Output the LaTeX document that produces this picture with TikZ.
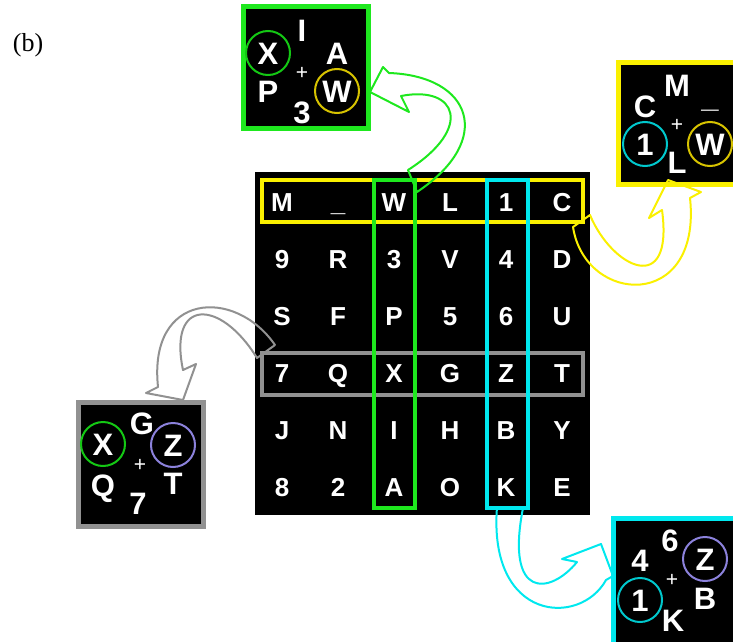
\documentclass[tikz,border=0pt]{standalone}
\usepackage{fontspec}
\setmainfont{Liberation Serif}
\setsansfont{Liberation Sans}

\definecolor{boxgreen}{RGB}{30,232,30}
\definecolor{boxyellow}{RGB}{250,240,0}
\definecolor{boxcyan}{RGB}{0,232,238}
\definecolor{boxgray}{RGB}{145,145,145}
\definecolor{ringgreen}{RGB}{20,200,20}
\definecolor{ringyellow}{RGB}{215,195,0}
\definecolor{ringcyan}{RGB}{0,200,205}
\definecolor{ringpurple}{RGB}{140,130,220}

\tikzset{
  gridlet/.style={text=white, font=\sffamily\bfseries\fontsize{26}{26}\selectfont,
    text height=18.6pt, text depth=0pt, inner sep=0pt},
  cardlet/.style={text=white, font=\sffamily\bfseries\fontsize{31}{31}\selectfont,
    text height=22pt, text depth=0pt, inner sep=0pt},
  plusmark/.style={text=white, font=\sffamily\fontsize{21}{21}\selectfont, inner sep=0pt},
  ring/.style={circle, draw=#1, line width=2pt, minimum size=44pt, inner sep=0pt},
  hilite/.style={draw=#1, line width=3.5pt},
  cardbox/.style={fill=black, draw=#1, line width=5pt},
  swoop/.style={draw=#1, line width=2pt, line join=round},
}

\begin{document}
\begin{tikzpicture}[x=1pt,y=-1pt]
  \useasboundingbox (0,0) rectangle (733,642);
  \clip (0,0) rectangle (733,642);

  \node[font=\fontsize{26}{26}\selectfont] (label) at (28,45) {(b)};

  % the 6x6 square
  \fill[black] (255,172) rectangle (590,515);
  \foreach \row [count=\r] in {{M,\_,W,L,1,C},{9,R,3,V,4,D},{S,F,P,5,6,U},
                               {7,Q,X,G,Z,T},{J,N,I,H,B,Y},{8,2,A,O,K,E}}
    \foreach \ch [count=\c] in \row
      \node[gridlet] (g\r\c) at ({226+56*\c},{145+57*\r}) {\ch};

  % highlighted row and columns
  \draw[hilite=boxyellow] (262,180) rectangle (583,222);
  \draw[hilite=boxgray] (262,353) rectangle (583,395);
  \draw[hilite=boxgreen] (374,180) rectangle (415,508);
  \draw[hilite=boxcyan] (487,180) rectangle (528,508);

  % green card
  \draw[cardbox=boxgreen] (243,7) rectangle (368,128);
  \node[cardlet] (gI) at (302,31) {I};
  \node[cardlet] (gX) at (268,53) {X};
  \node[cardlet] (gA) at (337,53) {A};
  \node[plusmark] (gplus) at (302,73) {+};
  \node[cardlet] (gP) at (268,91) {P};
  \node[cardlet] (gW) at (337,91) {W};
  \node[cardlet] (g3) at (302,112) {3};
  \node[ring=ringgreen] at (gX) {};
  \node[ring=ringyellow] at (gW) {};

  % yellow card
  \draw[cardbox=boxyellow] (618,63) rectangle (738,184);
  \node[cardlet] (yM) at (677,85) {M};
  \node[cardlet] (yC) at (645,106) {C};
  \node[cardlet] (ybar) at (710,96) {\_};
  \node[plusmark] (yplus) at (677,125) {+};
  \node[cardlet] (y1) at (645,144) {1};
  \node[cardlet] (yW) at (710,144) {W};
  \node[cardlet] (yL) at (677,162) {L};
  \node[ring=ringcyan] at (y1) {};
  \node[ring=ringyellow] at (yW) {};

  % gray card
  \draw[cardbox=boxgray] (78,402) rectangle (203,526);
  \node[cardlet] (hG) at (142,423) {G};
  \node[cardlet] (hX) at (103,444) {X};
  \node[cardlet] (hZ) at (173,445) {Z};
  \node[plusmark] (hplus) at (140,465) {+};
  \node[cardlet] (hQ) at (103,485) {Q};
  \node[cardlet] (hT) at (173,483) {T};
  \node[cardlet] (h7) at (138,503) {7};
  \node[ring=ringgreen] at (hX) {};
  \node[ring=ringpurple] at (hZ) {};

  % cyan card
  \draw[cardbox=boxcyan] (613,518) rectangle (738,646);
  \node[cardlet] (c6) at (670,540) {6};
  \node[cardlet] (c4) at (640,560) {4};
  \node[cardlet] (cZ) at (705,559) {Z};
  \node[plusmark] (cplus) at (672,580) {+};
  \node[cardlet] (c1) at (640,600) {1};
  \node[cardlet] (cB) at (705,598) {B};
  \node[cardlet] (cK) at (673,620) {K};
  \node[ring=ringcyan] at (c1) {};
  \node[ring=ringpurple] at (cZ) {};

  % curved hollow arrows
  \draw[swoop=boxgreen] (408,170) -- (417,192) .. controls (495,140) and (472,76) .. (389,73)
    -- (383,67) -- (370,92) -- (409,112) -- (401,96)
    .. controls (457,85) and (474,128) .. (408,170) -- cycle;
  \draw[swoop=boxyellow] (573,227) -- (590,215) .. controls (612,268) and (674,298) .. (662,210)
    -- (649,218) -- (668,180) -- (701,192) -- (690,198)
    .. controls (702,312) and (585,305) .. (573,227) -- cycle;
  \draw[swoop=boxgray] (257,358) -- (275,345) .. controls (235,287) and (148,292) .. (158,387)
    -- (146,393) -- (183,400) -- (196,364) -- (183,370)
    .. controls (168,298) and (220,298) .. (257,358) -- cycle;
  \draw[swoop=boxcyan] (497,507) -- (523,508) .. controls (505,600) and (550,595) .. (577,562)
    -- (562,559) -- (601,544) -- (613,576) -- (606,580)
    .. controls (580,627) and (488,622) .. (497,507) -- cycle;
\end{tikzpicture}
\end{document}
